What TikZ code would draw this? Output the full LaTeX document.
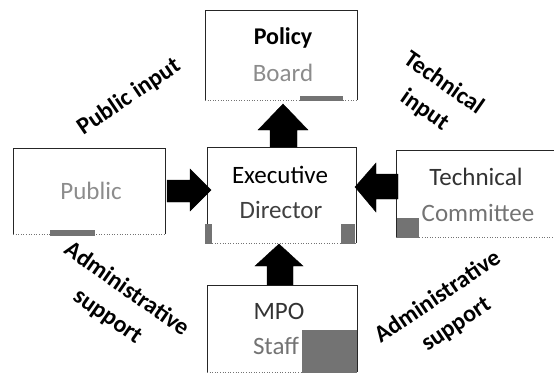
\documentclass[tikz,border=0pt]{standalone}
\usepackage{fontspec}
\setmainfont{Carlito}
\begin{document}
\begin{tikzpicture}[x=1pt,y=-1pt,
  boxline/.style={draw=black!85,line width=0.9pt},
  boxbottom/.style={draw=black!55,line width=0.6pt,dotted},
  smudge/.style={fill=black!55},
  blockarrow/.style={fill=black,draw=black,line width=0.4pt},
  dark/.style={font=\fontsize{25}{27}\selectfont,text=black!85,inner sep=0pt},
  light/.style={font=\fontsize{25}{27}\selectfont,text=black!45,inner sep=0pt},
  side/.style={font=\fontsize{24}{33}\selectfont\bfseries,align=center,text=black,inner sep=0pt}]
\useasboundingbox (0,0) rectangle (554,373);
% boxes
\coordinate (pb1) at (205,100); \coordinate (pb2) at (205,10); \coordinate (pb3) at (357,10); \coordinate (pb4) at (357,100);
\draw[boxline] (pb1) -- (pb2) -- (pb3) -- (pb4);
\draw[boxbottom] (pb1) -- (pb4);
\fill[smudge] (300,96) rectangle (343,101);
\coordinate (pu1) at (13,234); \coordinate (pu2) at (13,148); \coordinate (pu3) at (165,148); \coordinate (pu4) at (165,234);
\draw[boxline] (pu1) -- (pu2) -- (pu3) -- (pu4);
\draw[boxbottom] (pu1) -- (pu4);
\fill[smudge] (50,230) rectangle (95,236);
\coordinate (ex1) at (207,243); \coordinate (ex2) at (207,147); \coordinate (ex3) at (356,147); \coordinate (ex4) at (356,243);
\draw[boxline] (ex1) -- (ex2) -- (ex3) -- (ex4);
\draw[boxbottom] (ex1) -- (ex4);
\fill[smudge] (205,224) rectangle (212,244);
\fill[smudge] (341,224) rectangle (355,244);
\coordinate (tc1) at (396,237); \coordinate (tc2) at (396,150); \coordinate (tc3) at (554,150);
\draw[boxline] (tc1) -- (tc2) -- (tc3);
\draw[boxbottom] (tc1) -- (554,237);
\fill[smudge] (397,218) rectangle (419,238);
\coordinate (mp1) at (207,372); \coordinate (mp2) at (207,285); \coordinate (mp3) at (357,285); \coordinate (mp4) at (357,372);
\draw[boxline] (mp1) -- (mp2) -- (mp3) -- (mp4);
\draw[boxbottom] (mp1) -- (mp4);
\fill[smudge] (302,330) rectangle (357,373);
% texts
\node[dark,font=\fontsize{24}{26}\selectfont\bfseries,text=black] (policy) at (283,38) {Policy};
\node[light] (board) at (283,73) {Board};
\node[light] (public) at (91,191) {Public};
\node[dark,text=black] (exec) at (280,175) {Executive};
\node[dark,text=black!75] (dir) at (281,210) {Director};
\node[dark,text=black!80] (tech) at (476,177) {Technical};
\node[light,text=black!55] (comm) at (478,213) {Committee};
\node[dark,text=black!80] (mpo) at (279,311) {MPO};
\node[light,text=black!55] (staff) at (276,346) {Staff};
% block arrows
\draw[blockarrow] (270,147) -- (270,130) -- (258,130) -- (283,104) -- (308,130) -- (297,130) -- (297,147) -- cycle;
\draw[blockarrow] (267,285) -- (267,266) -- (255,266) -- (279,244) -- (303,266) -- (293,266) -- (293,285) -- cycle;
\draw[blockarrow] (167,180) -- (190,180) -- (190,169) -- (211,190) -- (190,211) -- (190,202) -- (167,202) -- cycle;
\draw[blockarrow] (398,174) -- (376,174) -- (376,163) -- (355,187) -- (376,212) -- (376,199) -- (398,199) -- cycle;
% side labels
\node[side,rotate=34] (pin) at (129,97) {Public input};
\node[side,rotate=-35] (tin) at (434,97) {Technical\\input};
\node[side,rotate=-35] (asl) at (117,303) {Administrative\\support};
\node[side,rotate=34] (asr) at (447,311) {Administrative\\support};
\end{tikzpicture}
\end{document}
